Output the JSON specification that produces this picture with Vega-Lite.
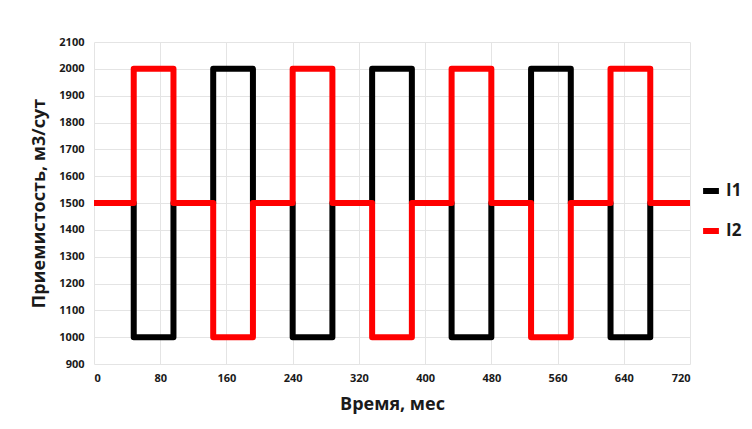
{
  "$schema": "https://vega.github.io/schema/vega-lite/v6.json",
  "width": 596,
  "height": 322,
  "autosize": {"type": "none"},
  "padding": {"left": 94, "top": 42, "right": 62, "bottom": 65},
  "background": "white",
  "config": {
    "view": {"stroke": null},
    "font": "Open Sans"
  },
  "data": {
    "values": [
      {"s": "I1", "i": 0, "t": 0, "q": 1500},
      {"s": "I1", "i": 1, "t": 48, "q": 1500},
      {"s": "I1", "i": 2, "t": 48, "q": 1000},
      {"s": "I1", "i": 3, "t": 96, "q": 1000},
      {"s": "I1", "i": 4, "t": 96, "q": 1500},
      {"s": "I1", "i": 5, "t": 144, "q": 1500},
      {"s": "I1", "i": 6, "t": 144, "q": 2000},
      {"s": "I1", "i": 7, "t": 192, "q": 2000},
      {"s": "I1", "i": 8, "t": 192, "q": 1500},
      {"s": "I1", "i": 9, "t": 240, "q": 1500},
      {"s": "I1", "i": 10, "t": 240, "q": 1000},
      {"s": "I1", "i": 11, "t": 288, "q": 1000},
      {"s": "I1", "i": 12, "t": 288, "q": 1500},
      {"s": "I1", "i": 13, "t": 336, "q": 1500},
      {"s": "I1", "i": 14, "t": 336, "q": 2000},
      {"s": "I1", "i": 15, "t": 384, "q": 2000},
      {"s": "I1", "i": 16, "t": 384, "q": 1500},
      {"s": "I1", "i": 17, "t": 432, "q": 1500},
      {"s": "I1", "i": 18, "t": 432, "q": 1000},
      {"s": "I1", "i": 19, "t": 480, "q": 1000},
      {"s": "I1", "i": 20, "t": 480, "q": 1500},
      {"s": "I1", "i": 21, "t": 528, "q": 1500},
      {"s": "I1", "i": 22, "t": 528, "q": 2000},
      {"s": "I1", "i": 23, "t": 576, "q": 2000},
      {"s": "I1", "i": 24, "t": 576, "q": 1500},
      {"s": "I1", "i": 25, "t": 624, "q": 1500},
      {"s": "I1", "i": 26, "t": 624, "q": 1000},
      {"s": "I1", "i": 27, "t": 672, "q": 1000},
      {"s": "I1", "i": 28, "t": 672, "q": 1500},
      {"s": "I1", "i": 29, "t": 720, "q": 1500},
      {"s": "I2", "i": 0, "t": 0, "q": 1500},
      {"s": "I2", "i": 1, "t": 48, "q": 1500},
      {"s": "I2", "i": 2, "t": 48, "q": 2000},
      {"s": "I2", "i": 3, "t": 96, "q": 2000},
      {"s": "I2", "i": 4, "t": 96, "q": 1500},
      {"s": "I2", "i": 5, "t": 144, "q": 1500},
      {"s": "I2", "i": 6, "t": 144, "q": 1000},
      {"s": "I2", "i": 7, "t": 192, "q": 1000},
      {"s": "I2", "i": 8, "t": 192, "q": 1500},
      {"s": "I2", "i": 9, "t": 240, "q": 1500},
      {"s": "I2", "i": 10, "t": 240, "q": 2000},
      {"s": "I2", "i": 11, "t": 288, "q": 2000},
      {"s": "I2", "i": 12, "t": 288, "q": 1500},
      {"s": "I2", "i": 13, "t": 336, "q": 1500},
      {"s": "I2", "i": 14, "t": 336, "q": 1000},
      {"s": "I2", "i": 15, "t": 384, "q": 1000},
      {"s": "I2", "i": 16, "t": 384, "q": 1500},
      {"s": "I2", "i": 17, "t": 432, "q": 1500},
      {"s": "I2", "i": 18, "t": 432, "q": 2000},
      {"s": "I2", "i": 19, "t": 480, "q": 2000},
      {"s": "I2", "i": 20, "t": 480, "q": 1500},
      {"s": "I2", "i": 21, "t": 528, "q": 1500},
      {"s": "I2", "i": 22, "t": 528, "q": 1000},
      {"s": "I2", "i": 23, "t": 576, "q": 1000},
      {"s": "I2", "i": 24, "t": 576, "q": 1500},
      {"s": "I2", "i": 25, "t": 624, "q": 1500},
      {"s": "I2", "i": 26, "t": 624, "q": 2000},
      {"s": "I2", "i": 27, "t": 672, "q": 2000},
      {"s": "I2", "i": 28, "t": 672, "q": 1500},
      {"s": "I2", "i": 29, "t": 720, "q": 1500}
    ]
  },
  "mark": {"type": "line", "strokeWidth": 6, "strokeJoin": "round", "strokeCap": "butt"},
  "encoding": {
    "x": {
      "field": "t", "type": "quantitative",
      "scale": {"domain": [0, 720], "nice": false, "zero": false},
      "axis": {
        "values": [0, 80, 160, 240, 320, 400, 480, 560, 640, 720],
        "format": "d",
        "title": "Время, мес",
        "titleFontSize": 18, "titleFontWeight": "bold", "titleColor": "#1a1a1a", "titlePadding": 12,
        "labelFontSize": 11, "labelFontWeight": "bold", "labelColor": "#1a1a1a", "labelPadding": 8,
        "domain": false, "ticks": false,
        "grid": true, "gridColor": "#e4e4e4", "gridWidth": 1
      }
    },
    "y": {
      "field": "q", "type": "quantitative",
      "scale": {"domain": [900, 2100], "nice": false, "zero": false},
      "axis": {
        "values": [900, 1000, 1100, 1200, 1300, 1400, 1500, 1600, 1700, 1800, 1900, 2000, 2100],
        "format": "d",
        "title": "Приемистость, м3/сут",
        "titleFontSize": 18, "titleFontWeight": "bold", "titleColor": "#1a1a1a", "titlePadding": 10,
        "labelFontSize": 11, "labelFontWeight": "bold", "labelColor": "#1a1a1a", "labelPadding": 10,
        "domain": false, "ticks": false,
        "grid": true, "gridColor": "#e4e4e4", "gridWidth": 1
      }
    },
    "color": {
      "field": "s", "type": "nominal",
      "scale": {"domain": ["I1", "I2"], "range": ["#000000", "#ff0000"]},
      "legend": {
        "title": null,
        "orient": "none", "legendX": 606, "legendY": 138,
        "symbolType": "stroke", "symbolStrokeWidth": 6, "symbolSize": 250,
        "labelFontSize": 17, "labelFontWeight": "bold", "labelColor": "#1a1a1a",
        "rowPadding": 16, "labelOffset": 4
      }
    },
    "order": {"field": "i", "type": "quantitative"}
  }
}
